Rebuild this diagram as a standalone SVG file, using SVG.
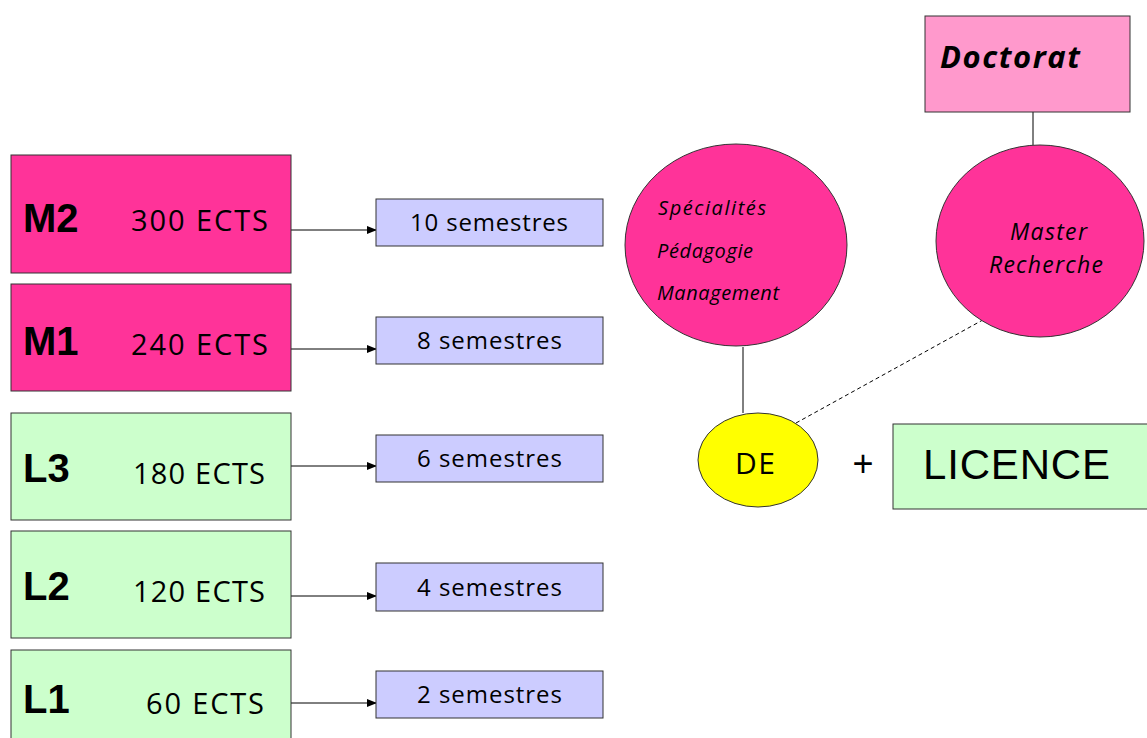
<svg xmlns="http://www.w3.org/2000/svg" width="1147" height="738" viewBox="0 0 1147 738">
<style>
.box{stroke:#333;stroke-width:1}
.m{fill:#FF3399}
.l{fill:#CCFFCC}
.s{fill:#CCCCFF}
.lab{font-family:"Liberation Sans",Arial,sans-serif;font-weight:bold;font-size:40px;fill:#000}
.ects{font-family:"Open Sans","DejaVu Sans",sans-serif;font-size:29px;fill:#000}
.sem{font-family:"Open Sans","DejaVu Sans",sans-serif;font-size:24px;fill:#000}
.it{font-family:"Open Sans","DejaVu Sans",sans-serif;font-style:italic;font-size:20px;fill:#000}
.it2{font-size:23px}
.conn{stroke:#000;stroke-width:1;fill:none}
</style>
<defs>
<marker id="arr" markerWidth="10" markerHeight="8" refX="9" refY="4" orient="auto" markerUnits="userSpaceOnUse">
<path d="M0,0 L10,4 L0,8 z" fill="#000"/>
</marker>
</defs>
<rect width="1147" height="738" fill="#fff"/>
<g id="connectors">
<line class="conn" x1="291" y1="230" x2="376" y2="230" marker-end="url(#arr)"/>
<line class="conn" x1="291" y1="349" x2="376" y2="349" marker-end="url(#arr)"/>
<line class="conn" x1="291" y1="466" x2="376" y2="466" marker-end="url(#arr)"/>
<line class="conn" x1="291" y1="596" x2="376" y2="596" marker-end="url(#arr)"/>
<line class="conn" x1="291" y1="703" x2="376" y2="703" marker-end="url(#arr)"/>
<line class="conn" x1="1033" y1="112" x2="1033" y2="145"/>
<line class="conn" x1="743" y1="347" x2="743" y2="413"/>
<line class="conn" x1="796" y1="423" x2="990" y2="316" stroke-dasharray="4,3" stroke="#333"/>
</g>
<g id="M2"><rect class="box m" x="11" y="155" width="280" height="118"/><text class="lab" x="23" y="232">M2</text><text class="ects" x="131" y="231" textLength="137">300 ECTS</text></g>
<g id="M1"><rect class="box m" x="11" y="284" width="280" height="107"/><text class="lab" x="23" y="355">M1</text><text class="ects" x="131" y="355" textLength="137">240 ECTS</text></g>
<g id="L3"><rect class="box l" x="11" y="413" width="280" height="107"/><text class="lab" x="23" y="482">L3</text><text class="ects" x="133" y="484" textLength="132">180 ECTS</text></g>
<g id="L2"><rect class="box l" x="11" y="531" width="280" height="107"/><text class="lab" x="23" y="600">L2</text><text class="ects" x="133" y="602" textLength="132">120 ECTS</text></g>
<g id="L1"><rect class="box l" x="11" y="650" width="280" height="100"/><text class="lab" x="23" y="713">L1</text><text class="ects" x="146" y="714" textLength="118">60 ECTS</text></g>
<g id="S10"><rect class="box s" x="376" y="199" width="227" height="47"/><text class="sem" x="410" y="231" textLength="158">10 semestres</text></g>
<g id="S8"><rect class="box s" x="376" y="317" width="227" height="47"/><text class="sem" x="417" y="349" textLength="145">8 semestres</text></g>
<g id="S6"><rect class="box s" x="376" y="435" width="227" height="47"/><text class="sem" x="417" y="467" textLength="145">6 semestres</text></g>
<g id="S4"><rect class="box s" x="376" y="563" width="227" height="48"/><text class="sem" x="417" y="596" textLength="145">4 semestres</text></g>
<g id="S2"><rect class="box s" x="376" y="671" width="227" height="47"/><text class="sem" x="417" y="703" textLength="145">2 semestres</text></g>
<g id="specialites"><ellipse class="box m" cx="736" cy="245" rx="111" ry="101"/>
<text class="it" x="658" y="215" textLength="108">Spécialités</text><text class="it" x="657" y="258" textLength="96">Pédagogie</text><text class="it" x="657" y="300" textLength="122">Management</text></g>
<g id="master"><ellipse class="box m" cx="1040" cy="241" rx="104" ry="96"/>
<text class="it it2" x="1010" y="240" textLength="77">Master</text><text class="it it2" x="989" y="273" textLength="114">Recherche</text></g>
<g id="doctorat"><rect class="box" fill="#FF99CC" x="925" y="16" width="205" height="96"/>
<text x="940" y="68" font-family="'Open Sans','DejaVu Sans',sans-serif" font-weight="bold" font-style="italic" font-size="31" textLength="140">Doctorat</text></g>
<g id="DE"><ellipse class="box" fill="#FFFF00" cx="758" cy="460" rx="60" ry="47"/>
<text x="735" y="474" font-family="'Open Sans','DejaVu Sans',sans-serif" font-size="30" textLength="40">DE</text></g>
<g id="plus"><text x="863" y="476" text-anchor="middle" font-family="'Liberation Sans',Arial,sans-serif" font-size="36">+</text></g>
<g id="licence"><rect class="box l" x="893" y="424" width="260" height="85"/>
<text x="923" y="479" font-family="'Liberation Sans',Arial,sans-serif" font-size="42" textLength="187">LICENCE</text></g>
</svg>
